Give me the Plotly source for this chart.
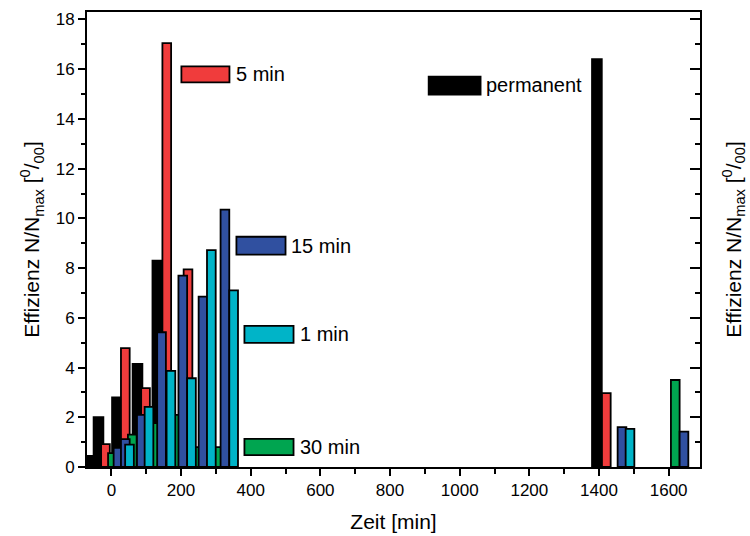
import plotly.graph_objects as go

# ---- data (time in min, efficiency in per mille) ----
perm_t = [-55, -37, 16, 75, 132, 1394]
perm_v = [0.45, 2.0, 2.8, 4.15, 8.3, 16.4]

min5_t = [-17, 40, 98, 159, 220, 1421]
min5_v = [0.92, 4.78, 3.17, 17.05, 7.95, 2.97]

min30_t = [3, 60, 129, 187, 247, 307, 1619]
min30_v = [0.56, 1.3, 1.77, 2.1, 0.8, 0.8, 3.5]

min15_t = [19, 40, 86, 144, 205, 263, 326, 1466, 1644]
min15_v = [0.77, 1.12, 2.1, 5.42, 7.7, 6.85, 10.35, 1.6, 1.42]

min1_t = [52, 108, 171, 230, 287, 351, 1489]
min1_v = [0.9, 2.42, 3.87, 3.57, 8.72, 7.1, 1.53]

x_ticks = [0, 200, 400, 600, 800, 1000, 1200, 1400, 1600]
y_ticks = [0, 2, 4, 6, 8, 10, 12, 14, 16, 18]

BLACK = "#000000"
RED = "#F03C3C"
BLUE = "#3050A0"
CYAN = "#00B4C8"
GREEN = "#00A550"

FONT = "Liberation Sans, Arial, sans-serif"

series = [
    ("permanent", perm_t, perm_v, BLACK, 28),
    ("5 min", min5_t, min5_v, RED, 25),
    ("30 min", min30_t, min30_v, GREEN, 25),
    ("15 min", min15_t, min15_v, BLUE, 25),
    ("1 min", min1_t, min1_v, CYAN, 25),
]

fig = go.Figure()
for name, t, v, col, w in series:
    fig.add_trace(go.Bar(
        x=t, y=v, name=name, width=[w] * len(t),
        marker=dict(color=col, line=dict(color="black", width=1.8)),
        showlegend=False,
    ))

# in-plot legend boxes + labels
legend_items = [
    ("5 min", RED, 201, 339, 15.47, 16.11, 351, 15.8),
    ("15 min", BLUE, 359, 500, 8.54, 9.26, 509, 8.9),
    ("1 min", CYAN, 382, 523, 4.99, 5.68, 535, 5.35),
    ("30 min", GREEN, 382, 523, 0.48, 1.13, 537, 0.8),
    ("permanent", BLACK, 911, 1060, 14.98, 15.7, 1070, 15.35),
]
for label, col, x0, x1, y0, y1, tx, ty in legend_items:
    fig.add_shape(type="rect", xref="x", yref="y", x0=x0, x1=x1, y0=y0, y1=y1,
                  fillcolor=col, line=dict(color="black", width=1.8))
    fig.add_annotation(x=tx, y=ty, xref="x", yref="y", text=label, showarrow=False,
                       xanchor="left", yanchor="middle",
                       font=dict(family=FONT, size=20, color="black"))

ytitle = "Effizienz N/N<sub>max</sub> [<sup>0</sup>/<sub>00</sub>]"

# dummy trace for mirrored axes
fig.add_trace(go.Scatter(x=[None], y=[None], xaxis="x2", yaxis="y2", showlegend=False))

fig.update_layout(
    width=750, height=536,
    margin=dict(l=87, r=50, t=12, b=69),
    plot_bgcolor="white", paper_bgcolor="white",
    barmode="overlay",
    font=dict(family=FONT, size=17, color="black"),
    xaxis=dict(
        range=[-70, 1690], tickvals=x_ticks, ticktext=[str(v) for v in x_ticks],
        ticks="outside", ticklen=7, tickwidth=2, tickcolor="black",
        minor=dict(dtick=100, tick0=0, ticks="outside", ticklen=5, tickwidth=2, tickcolor="black"),
        showline=True, linewidth=2, linecolor="black", showgrid=False, zeroline=False,
        title=dict(text="Zeit [min]", font=dict(size=21), standoff=15),
        tickfont=dict(size=17), automargin=False,
    ),
    yaxis=dict(
        range=[0, 18.3], tickvals=y_ticks, ticktext=[str(v) for v in y_ticks],
        ticks="outside", ticklen=7, tickwidth=2, tickcolor="black",
        minor=dict(dtick=1, tick0=0, ticks="outside", ticklen=4, tickwidth=2, tickcolor="black"),
        showline=True, linewidth=2, linecolor="black", showgrid=False, zeroline=False,
        title=dict(text=ytitle, font=dict(size=21), standoff=10),
        tickfont=dict(size=17), automargin=False,
    ),
    xaxis2=dict(
        overlaying="x", side="top", range=[-70, 1690],
        ticks="", showticklabels=False, showline=True, linewidth=2, linecolor="black",
        showgrid=False, zeroline=False, automargin=False,
    ),
    yaxis2=dict(
        overlaying="y", side="right", range=[0, 18.3], tickvals=y_ticks,
        ticks="inside", ticklen=10, tickwidth=2, tickcolor="black",
        minor=dict(dtick=1, tick0=0, ticks="inside", ticklen=5, tickwidth=2, tickcolor="black"),
        showticklabels=False, showline=True, linewidth=2, linecolor="black",
        showgrid=False, zeroline=False, automargin=False,
        title=dict(text=ytitle, font=dict(size=21), standoff=25),
    ),
)

fig.write_html("out.html")
